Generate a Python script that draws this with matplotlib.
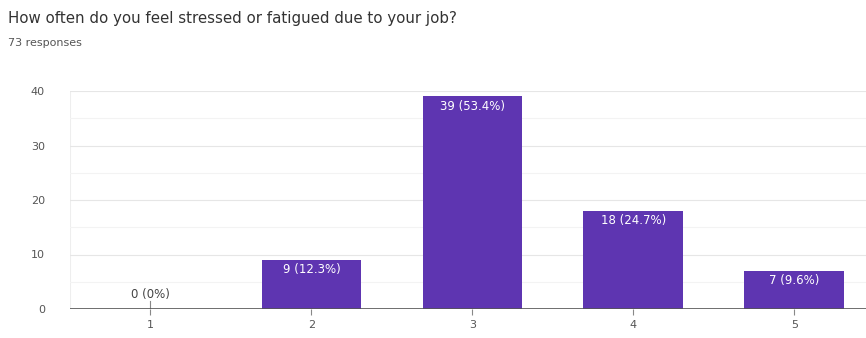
import matplotlib.pyplot as plt

# Survey answers (scale 1-5) and how many people picked each
categories = ["1", "2", "3", "4", "5"]
counts = [0, 9, 39, 18, 7]
percents = ["0%", "12.3%", "53.4%", "24.7%", "9.6%"]
total_responses = 73

BAR_COLOR = "#5e35b1"

fig = plt.figure(figsize=(8.66, 3.38), dpi=100)
ax = fig.add_axes([70 / 866, 29 / 338, 796 / 866, 218 / 338])

x = list(range(1, len(categories) + 1))
ax.bar(x, counts, width=0.62, color=BAR_COLOR, zorder=3)

# value labels, white inside the bar, grey above it when the bar is empty
for xi, c, p in zip(x, counts, percents):
    label = f"{c} ({p})"
    if c == 0:
        ax.text(xi, 1.5, label, ha="center", va="bottom", fontsize=8.5, color="#444444")
        ax.plot([xi, xi], [0, 1.5], color="#888888", lw=0.8, zorder=4)
    else:
        ax.text(xi, c - 0.6, label, ha="center", va="top", fontsize=8.5, color="white", zorder=4)

ax.set_xlim(0.5, 5.445)
ax.set_ylim(0, 40)
ax.set_xticks(x)
ax.set_xticklabels(categories)
ax.set_yticks([0, 10, 20, 30, 40])
ax.set_yticks([5, 15, 25, 35], minor=True)

ax.grid(axis="y", which="major", color="#e6e6e6", lw=0.8, zorder=0)
ax.grid(axis="y", which="minor", color="#f3f3f3", lw=0.8, zorder=0)
ax.axhline(0, color="#555555", lw=1.2, zorder=5)
ax.axvline(0.5, color="#eeeeee", lw=0.8, zorder=1)

for s in ax.spines.values():
    s.set_visible(False)
ax.tick_params(axis="y", which="both", length=0, labelsize=8, colors="#555555", pad=18)
ax.tick_params(axis="x", length=4, width=0.8, color="#888888", labelsize=8, labelcolor="#555555", pad=4)

fig.text(8 / 866, 1 - 18 / 338, "How often do you feel stressed or fatigued due to your job?",
         fontsize=10.8, color="#333333", va="center")
fig.text(8 / 866, 1 - 43 / 338, f"{total_responses} responses",
         fontsize=8, color="#555555", va="center")

fig.savefig("out.png", dpi=100, facecolor="white")
